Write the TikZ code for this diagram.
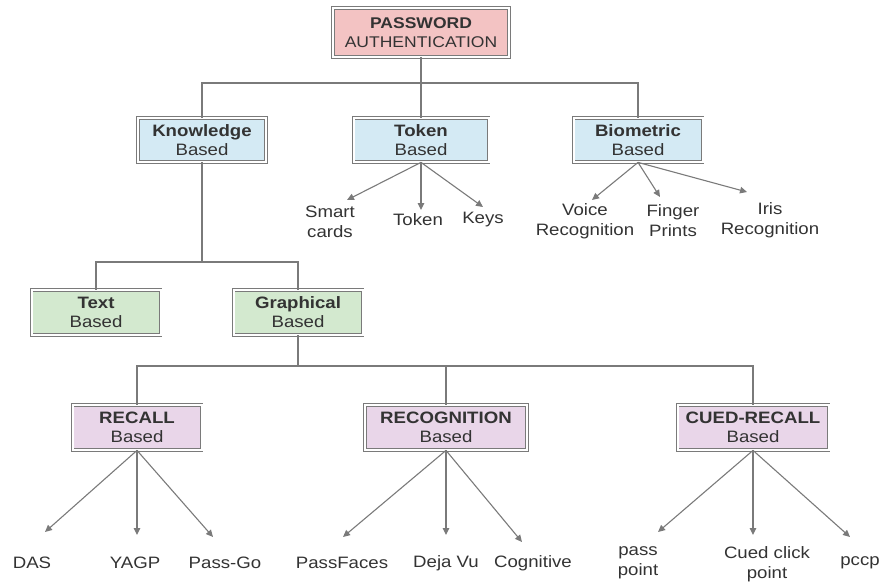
\documentclass[tikz,border=0pt]{standalone}
\usepackage{fontspec}
\setmainfont[FakeStretch=1.13]{Liberation Sans}
\usetikzlibrary{arrows.meta,positioning,calc}
\usepackage{xcolor}
\definecolor{ink}{HTML}{333333}
\definecolor{edge}{HTML}{7A7A7A}
\definecolor{rootfill}{HTML}{F3C3C3}
\definecolor{bluefill}{HTML}{D4EAF4}
\definecolor{greenfill}{HTML}{D3E9CF}
\definecolor{purplefill}{HTML}{E9D6E9}
\tikzset{
  >={Triangle[length=7pt,width=6.5pt]},
  every node/.style={font=\fontsize{16.5}{19}\selectfont,text=ink},
  box/.style={draw=edge,double=white,double distance=2pt,line width=0.8pt,align=center,inner sep=2pt,minimum height=45pt},
  rootbox/.style={box,fill=rootfill,minimum width=176pt,minimum height=49pt,font=\fontsize{15.5}{18.5}\selectfont},
  bluebox/.style={box,fill=bluefill,minimum height=44pt},
  greenbox/.style={box,fill=greenfill},
  purplebox/.style={box,fill=purplefill},
  link/.style={draw=edge,line width=1.1pt},
  arrow/.style={->,draw=edge,line width=1.1pt},
  leaf/.style={align=center,inner sep=1pt,font=\fontsize{16.5}{20}\selectfont},
}
\begin{document}
\begin{tikzpicture}[x=1pt,y=-1pt]
\useasboundingbox (0,0) rectangle (888,583);

% root
\node[rootbox] (pw) at (421,32.5) {\textbf{PASSWORD}\\AUTHENTICATION};

% first level
\node[bluebox,minimum width=128pt] (kb) at (202,140) {\textbf{Knowledge}\\Based};
\node[bluebox,minimum width=135pt] (tok) at (421,140) {\textbf{Token}\\Based};
\node[bluebox,minimum width=129pt] (bio) at (638,140) {\textbf{Biometric}\\Based};
\coordinate (j1) at (421,83);
\draw[link] (pw.south) -- (j1);
\draw[link] (kb.north) |- (j1) -| (bio.north);
\draw[link] (j1) -- (tok.north);

% token leaves
\node[leaf] (smart) at (330,222) {Smart\\cards};
\node[leaf] (tokn) at (418,220) {Token};
\node[leaf] (keys) at (483,220) {Keys};
\coordinate (tsmart) at (347,200);
\coordinate (ttokn) at (421,210);
\coordinate (tkeys) at (483,207);
\foreach \t in {tsmart,ttokn,tkeys} {\draw[arrow] (tok.south) -- (\t);}

% biometric leaves
\node[leaf] (voice) at (585,221) {Voice\\Recognition};
\node[leaf] (finger) at (673,221) {Finger\\Prints};
\node[leaf] (iris) at (770,220) {Iris\\Recognition};
\coordinate (tvoice) at (592,200);
\coordinate (tfinger) at (660,197);
\coordinate (tiris) at (747,192);
\foreach \t in {tvoice,tfinger,tiris} {\draw[arrow] (bio.south) -- (\t);}

% knowledge split
\node[greenbox,minimum width=129pt] (txt) at (96,312.5) {\textbf{Text}\\Based};
\node[greenbox,minimum width=129pt] (gra) at (298,312.5) {\textbf{Graphical}\\Based};
\coordinate (j2) at (202,262);
\draw[link] (kb.south) -- (j2);
\draw[link] (txt.north) |- (j2) -| (gra.north);

% graphical split
\node[purplebox,minimum width=129pt] (rec) at (137,427.5) {\textbf{RECALL}\\Based};
\node[purplebox,minimum width=162pt] (rcg) at (446,427.5) {\textbf{RECOGNITION}\\Based};
\node[purplebox,minimum width=151pt] (cue) at (753,427.5) {\textbf{CUED-RECALL}\\Based};
\coordinate (j3) at (298,366);
\draw[link] (gra.south) -- (j3);
\draw[link] (rec.north) |- (j3) -| (cue.north);
\draw[link] (rcg.north) -- (rcg.north |- j3);

% recall leaves
\node[leaf] (das) at (32,563) {DAS};
\node[leaf] (yagp) at (135,563) {YAGP};
\node[leaf] (passgo) at (225,563) {Pass-Go};
\coordinate (tdas) at (45,532);
\coordinate (tyagp) at (137,535);
\coordinate (tpassgo) at (213,537);
\foreach \t in {tdas,tyagp,tpassgo} {\draw[arrow] (rec.south) -- (\t);}

% recognition leaves
\node[leaf] (pf) at (342,563) {PassFaces};
\node[leaf] (deja) at (446,563) {Deja Vu};
\node[leaf] (cog) at (533,563) {Cognitive};
\coordinate (tpf) at (343,537);
\coordinate (tdeja) at (446,535);
\coordinate (tcog) at (522,542);
\foreach \t in {tpf,tdeja,tcog} {\draw[arrow] (rcg.south) -- (\t);}

% cued-recall leaves
\node[leaf] (pp) at (638,563) {pass\\point};
\node[leaf] (ccp) at (767,564) {Cued click\\point};
\node[leaf] (pccp) at (860,563) {pccp};
\coordinate (tpp) at (658,532);
\coordinate (tccp) at (753,535);
\coordinate (tpccp) at (850,537);
\foreach \t in {tpp,tccp,tpccp} {\draw[arrow] (cue.south) -- (\t);}

\end{tikzpicture}
\end{document}
